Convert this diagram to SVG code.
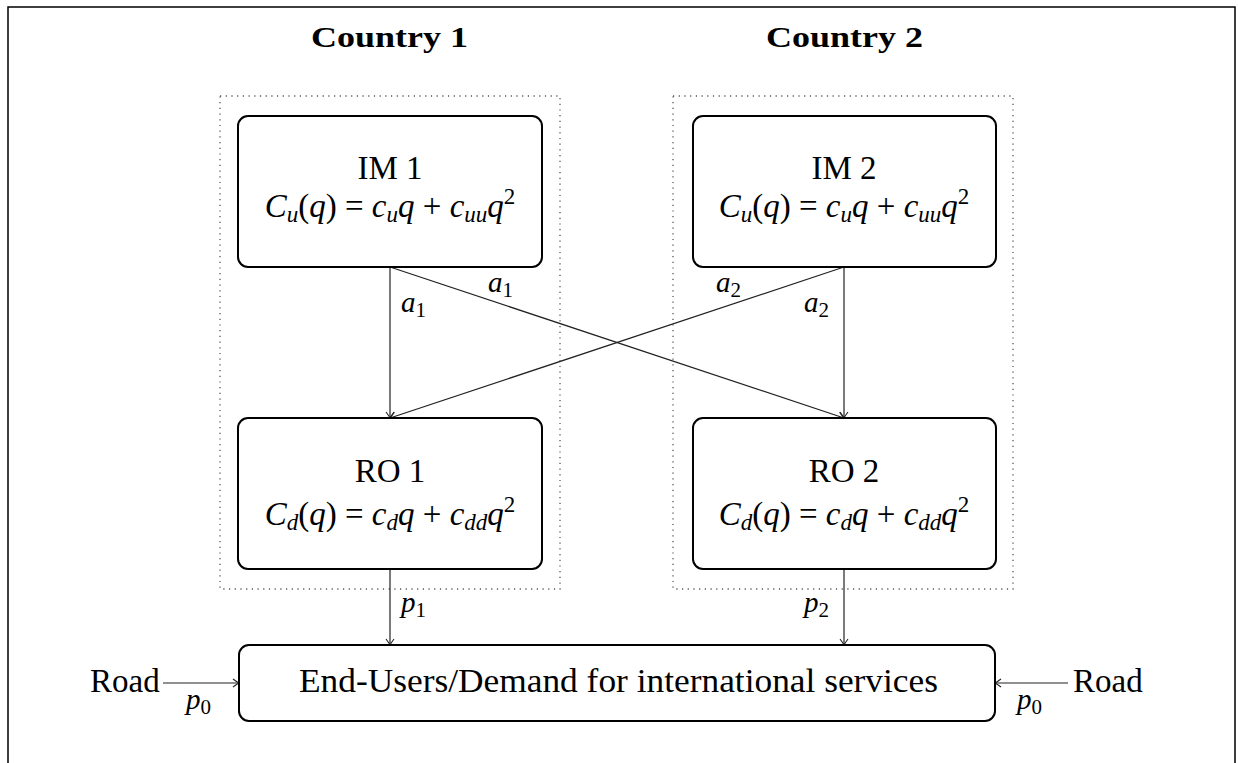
<svg xmlns="http://www.w3.org/2000/svg" width="1238" height="763" viewBox="0 0 1238 763">
<style>
text{font-family:"Liberation Serif","DejaVu Serif",serif;fill:#000}
.t{font-size:33px}
.h{font-size:30px;font-weight:bold}
.i{font-style:italic}
.s{font-size:23px}
.box{fill:#fff;stroke:#000;stroke-width:2}
.grp{fill:none;stroke:#555;stroke-width:1.3;stroke-dasharray:1.2 4.5}
.c{stroke:#222;stroke-width:1.2;fill:none;marker-end:url(#ah)}
.lab{font-size:29px}
.ls{font-size:21px}
</style>
<defs>
<marker id="ah" viewBox="-8 -6 10 12" refX="0" refY="0" markerWidth="10" markerHeight="12" markerUnits="userSpaceOnUse" orient="auto">
<path d="M-6,-4 Q-2,-1 0,0 Q-2,1 -6,4" fill="none" stroke="#222" stroke-width="1.1"/>
</marker>
</defs>
<rect width="1238" height="763" fill="#fff"/>
<path d="M8,763 V7 H1235 V763" fill="none" stroke="#000" stroke-width="1.5"/>
<g id="titles">
<text class="h" x="311" y="47" textLength="157" lengthAdjust="spacingAndGlyphs">Country 1</text>
<text class="h" x="766" y="47" textLength="157" lengthAdjust="spacingAndGlyphs">Country 2</text>
</g>
<g id="country1"><rect class="grp" x="220" y="96" width="340" height="493"/></g>
<g id="country2"><rect class="grp" x="673" y="96" width="340" height="493"/></g>
<g id="connectors">
<line class="c" x1="390" y1="267" x2="390" y2="418"/>
<line class="c" x1="390" y1="267" x2="844" y2="418"/>
<line class="c" x1="844" y1="267" x2="844" y2="418"/>
<line class="c" x1="844" y1="267" x2="390" y2="418"/>
<line class="c" x1="390" y1="569" x2="390" y2="645"/>
<line class="c" x1="844" y1="569" x2="844" y2="645"/>
<line class="c" x1="163" y1="683" x2="239" y2="683"/>
<line class="c" x1="1068" y1="683" x2="995" y2="683"/>
<text class="lab" x="401" y="312"><tspan class="i">a</tspan><tspan class="ls" dy="5">1</tspan></text>
<text class="lab" x="488" y="292"><tspan class="i">a</tspan><tspan class="ls" dy="5">1</tspan></text>
<text class="lab" x="716" y="292"><tspan class="i">a</tspan><tspan class="ls" dy="5">2</tspan></text>
<text class="lab" x="804" y="312"><tspan class="i">a</tspan><tspan class="ls" dy="5">2</tspan></text>
<text class="lab" x="401" y="612"><tspan class="i">p</tspan><tspan class="ls" dy="5">1</tspan></text>
<text class="lab" x="804" y="612"><tspan class="i">p</tspan><tspan class="ls" dy="5">2</tspan></text>
<text class="lab" x="186" y="709"><tspan class="i">p</tspan><tspan class="ls" dy="5">0</tspan></text>
<text class="lab" x="1017" y="709"><tspan class="i">p</tspan><tspan class="ls" dy="5">0</tspan></text>
</g>
<g id="im1">
<rect class="box" x="238" y="116" width="304" height="151" rx="10"/>
<text class="t" x="390" y="179" text-anchor="middle">IM 1</text>
<text class="t" x="390" y="217" text-anchor="middle"><tspan class="i">C</tspan><tspan class="s i" dy="5">u</tspan><tspan dy="-5">(</tspan><tspan class="i">q</tspan>) = <tspan class="i">c</tspan><tspan class="s i" dy="5">u</tspan><tspan class="i" dy="-5">q</tspan> + <tspan class="i">c</tspan><tspan class="s i" dy="5">uu</tspan><tspan class="i" dy="-5">q</tspan><tspan class="s" dy="-13">2</tspan></text>
</g>
<g id="im2">
<rect class="box" x="693" y="116" width="303" height="151" rx="10"/>
<text class="t" x="844" y="179" text-anchor="middle">IM 2</text>
<text class="t" x="844" y="217" text-anchor="middle"><tspan class="i">C</tspan><tspan class="s i" dy="5">u</tspan><tspan dy="-5">(</tspan><tspan class="i">q</tspan>) = <tspan class="i">c</tspan><tspan class="s i" dy="5">u</tspan><tspan class="i" dy="-5">q</tspan> + <tspan class="i">c</tspan><tspan class="s i" dy="5">uu</tspan><tspan class="i" dy="-5">q</tspan><tspan class="s" dy="-13">2</tspan></text>
</g>
<g id="ro1">
<rect class="box" x="238" y="418" width="304" height="151" rx="10"/>
<text class="t" x="390" y="482" text-anchor="middle">RO 1</text>
<text class="t" x="390" y="525" text-anchor="middle"><tspan class="i">C</tspan><tspan class="s i" dy="5">d</tspan><tspan dy="-5">(</tspan><tspan class="i">q</tspan>) = <tspan class="i">c</tspan><tspan class="s i" dy="5">d</tspan><tspan class="i" dy="-5">q</tspan> + <tspan class="i">c</tspan><tspan class="s i" dy="5">dd</tspan><tspan class="i" dy="-5">q</tspan><tspan class="s" dy="-13">2</tspan></text>
</g>
<g id="ro2">
<rect class="box" x="693" y="418" width="303" height="151" rx="10"/>
<text class="t" x="844" y="482" text-anchor="middle">RO 2</text>
<text class="t" x="844" y="525" text-anchor="middle"><tspan class="i">C</tspan><tspan class="s i" dy="5">d</tspan><tspan dy="-5">(</tspan><tspan class="i">q</tspan>) = <tspan class="i">c</tspan><tspan class="s i" dy="5">d</tspan><tspan class="i" dy="-5">q</tspan> + <tspan class="i">c</tspan><tspan class="s i" dy="5">dd</tspan><tspan class="i" dy="-5">q</tspan><tspan class="s" dy="-13">2</tspan></text>
</g>
<g id="endusers">
<rect class="box" x="239" y="645" width="756" height="76" rx="10"/>
<text class="t" x="299" y="692" textLength="639" lengthAdjust="spacingAndGlyphs">End-Users/Demand for international services</text>
</g>
<g id="road-left"><text class="t" x="90" y="692">Road</text></g>
<g id="road-right"><text class="t" x="1073" y="692">Road</text></g>
</svg>
